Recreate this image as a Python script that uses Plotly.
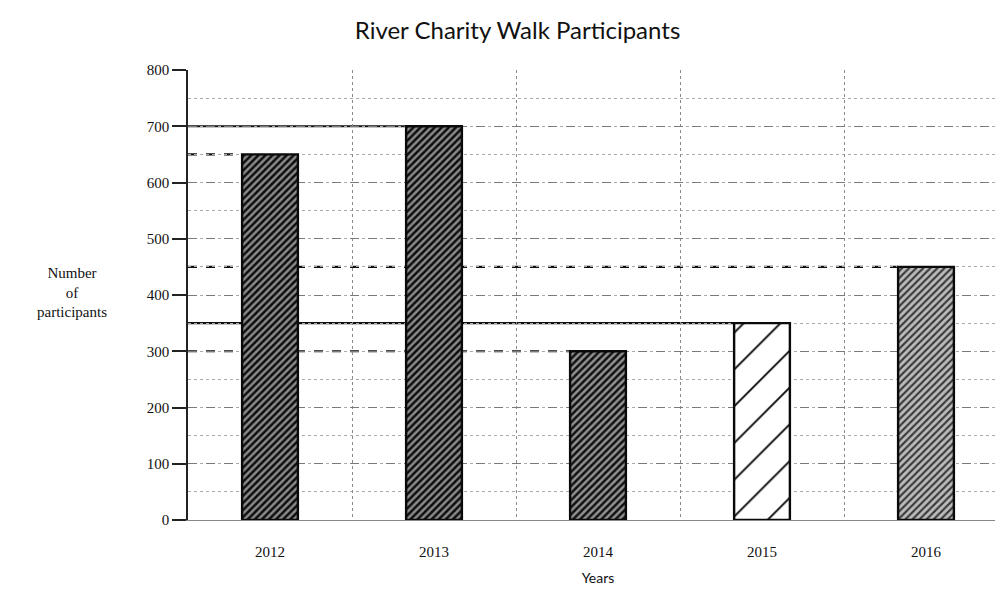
import plotly.graph_objects as go

years = ["2012", "2013", "2014", "2015", "2016"]
participants = [650, 700, 300, 350, 450]
y_ticks = [0, 100, 200, 300, 400, 500, 600, 700, 800]

# styling per bar
pattern_fg = ["#0d0d0d", "#0d0d0d", "#111111", "#000000", "#3a3a3a"]
pattern_bg = ["#8a8a8a", "#8a8a8a", "#929292", "#ffffff", "#bcbcbc"]
pattern_size = [5, 5, 5, 26, 5]
pattern_solid = [0.5, 0.5, 0.5, 0.07, 0.42]

# guide lines drawn from the y-axis to each bar: dash style per bar
guide_styles = ["dash", "solid", "dash", "solid", "dash"]

bargap = 0.66
half_w = (1 - bargap) / 2

fig = go.Figure()
for i in range(len(years)):
    fig.add_trace(go.Bar(
        x=[years[i]],
        y=[participants[i]],
        width=1 - bargap,
        marker=dict(
            color=pattern_bg[i],
            line=dict(color="#0a0a0a", width=2.4),
            pattern=dict(shape="/", fgcolor=pattern_fg[i], bgcolor=pattern_bg[i],
                         size=pattern_size[i], solidity=pattern_solid[i],
                         fillmode="replace", fgopacity=1),
        ),
        showlegend=False,
    ))

for i, v in enumerate(participants):
    fig.add_shape(type="line", xref="x", yref="y",
                  x0=-0.5, x1=i - half_w, y0=v, y1=v,
                  line=dict(color="#111111", width=2.2, dash=guide_styles[i]),
                  layer="below")

fig.update_layout(
    width=1003, height=597,
    margin=dict(l=180, r=3, t=62, b=85),
    paper_bgcolor="white", plot_bgcolor="white",
    barmode="overlay",
    title=dict(text="River Charity Walk Participants", x=0.508, xanchor="center",
               y=0.962, yanchor="middle",
               font=dict(family="Lato, Open Sans, sans-serif", size=24, color="#111111")),
    font=dict(family="Liberation Serif, serif", color="#111111"),
)

fig.update_xaxes(
    type="category",
    categoryorder="array", categoryarray=years,
    range=[-0.5, 4.5],
    tickson="boundaries",
    showgrid=True, gridcolor="#8a8a8a", griddash="dot", gridwidth=1.4,
    ticks="", ticklabelstandoff=18,
    tickfont=dict(family="Liberation Serif, serif", size=15, color="#111111"),
    showline=True, linecolor="#888888", linewidth=1,
    title=dict(text="Years", standoff=14,
               font=dict(family="Lato, Open Sans, sans-serif", size=14, color="#111111")),
    zeroline=False,
)

fig.update_yaxes(
    range=[0, 800],
    tickvals=y_ticks,
    ticktext=[str(t) for t in y_ticks],
    showgrid=True, gridcolor="#7a7a7a", griddash="dash", gridwidth=1.3,
    minor=dict(dtick=50, showgrid=True, gridcolor="#aaaaaa", griddash="dot", gridwidth=1),
    ticks="outside", ticklen=14, tickcolor="#222222", tickwidth=1.6,
    tickfont=dict(family="Liberation Serif, serif", size=15, color="#111111"),
    showline=True, linecolor="#222222", linewidth=1.6,
    zeroline=False,
)

fig.add_annotation(
    text="Number<br>of<br>participants", xref="paper", yref="paper",
    x=-0.142, y=0.505, xanchor="center", yanchor="middle", showarrow=False,
    align="center",
    font=dict(family="Liberation Serif, serif", size=15, color="#111111"),
)

fig.write_html("out.html")
